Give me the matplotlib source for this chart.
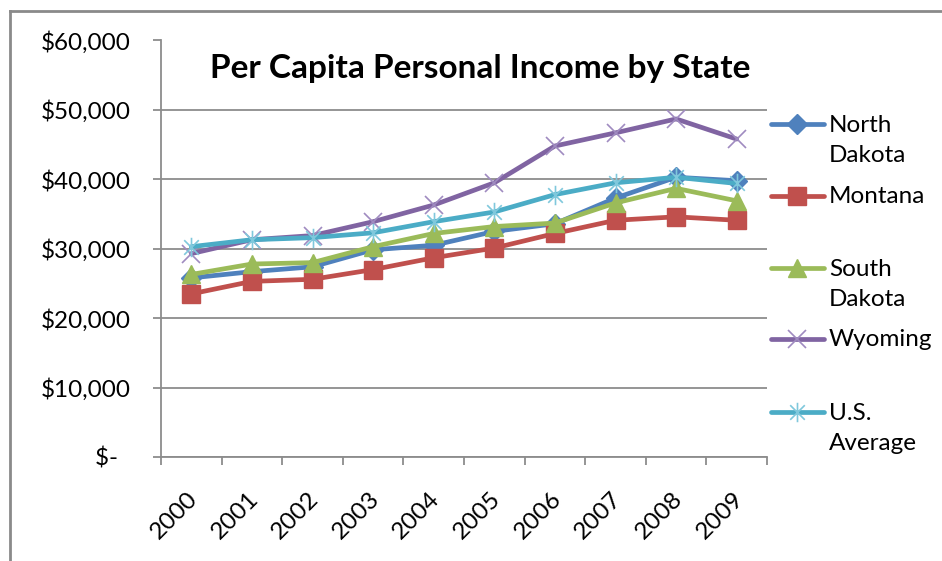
import matplotlib
matplotlib.use("Agg")
import matplotlib.pyplot as plt
from matplotlib.lines import Line2D
from matplotlib.path import Path
import matplotlib.transforms as mtransforms

years = ["2000", "2001", "2002", "2003", "2004", "2005", "2006", "2007", "2008", "2009"]
north_dakota = [25800, 26700, 27400, 29850, 30500, 32500, 33600, 37300, 40300, 39800]
montana = [23500, 25300, 25600, 27000, 28700, 30100, 32200, 34100, 34600, 34100]
south_dakota = [26300, 27800, 28000, 30300, 32200, 33200, 33700, 36600, 38700, 36900]
wyoming = [29300, 31300, 31900, 33900, 36300, 39500, 44800, 46700, 48700, 45800]
us_average = [30300, 31300, 31600, 32300, 33900, 35300, 37800, 39500, 40300, 39400]
series_names = ["North\nDakota", "Montana", "South\nDakota", "Wyoming", "U.S.\nAverage"]
y_ticks = [0, 10000, 20000, 30000, 40000, 50000, 60000]
title = "Per Capita Personal Income by State"

FONT = ["Lato", "DejaVu Sans"]
plt.rcParams["font.family"] = FONT

W, H = 942, 561
fig = plt.figure(figsize=(W / 100, H / 100), dpi=100)

def fx(px):
    return px / W

def fy(py):
    return 1 - py / H

ax = fig.add_axes([fx(161), fy(457), fx(767) - fx(161), fy(40.5) - fy(457)])

asterisk = Path(
    [(0, -1), (0, 1), (-0.75, -0.75), (0.75, 0.75), (-0.75, 0.75), (0.75, -0.75)],
    [Path.MOVETO, Path.LINETO, Path.MOVETO, Path.LINETO, Path.MOVETO, Path.LINETO],
)

styles = [
    dict(color="#4F81BD", marker="D", ms=10, mfc="#4F81BD", mec="#4F81BD", mew=1),
    dict(color="#C0504D", marker="s", ms=12.5, mfc="#C0504D", mec="#C0504D", mew=1),
    dict(color="#9BBB59", marker="^", ms=13, mfc="#9BBB59", mec="#9BBB59", mew=1),
    dict(color="#8064A2", marker="x", ms=13, mfc="none", mec="#9F8BC0", mew=1.2),
    dict(color="#4BACC6", marker=asterisk, ms=14, mfc="none", mec="#7FC8DC", mew=1.2),
]
data = [north_dakota, montana, south_dakota, wyoming, us_average]

x = list(range(len(years)))
for vals, st in zip(data, styles):
    ax.plot(x, vals, lw=3.4, solid_joinstyle="round", solid_capstyle="round",
            zorder=3, clip_on=False, **st)

grid_c = "#8C8C8C"
ax.set_xlim(-0.5, len(years) - 0.5)
ax.set_ylim(0, 60000)
ax.set_yticks(y_ticks)
ax.yaxis.grid(True, color=grid_c, lw=1.3)
ax.set_axisbelow(True)
for s in ["top", "right"]:
    ax.spines[s].set_visible(False)
for s in ["left", "bottom"]:
    ax.spines[s].set_color(grid_c)
    ax.spines[s].set_linewidth(1.3)

ax.set_yticklabels(["$-  " if v == 0 else "${:,.0f}".format(v) for v in y_ticks])
ax.tick_params(axis="y", length=6, width=1.3, color=grid_c, pad=16, labelsize=17.5,
               labelcolor="#000000")

ax.set_xticks(x)
ax.set_xticks([i - 0.5 for i in range(len(years) + 1)], minor=True)
ax.set_xticklabels(years)
ax.tick_params(axis="x", which="major", length=0, pad=28, labelsize=17.5)
ax.tick_params(axis="x", which="minor", length=6, width=1.3, color=grid_c)
offset = mtransforms.ScaledTranslation(3 / 100, 0, fig.dpi_scale_trans)
for lab in ax.get_xticklabels():
    lab.set_rotation(45)
    lab.set_rotation_mode("anchor")
    lab.set_ha("right")
    lab.set_va("center")
    lab.set_transform(lab.get_transform() + offset)

fig.text(fx(480), fy(78), title, ha="center", va="baseline", fontsize=24,
         fontweight="bold", family=FONT)

# legend
leg_y = [124, 196, 268, 339, 412]
for name, st, ly in zip(series_names, styles, leg_y):
    ln = Line2D([fx(771), fx(797), fx(824)], [fy(ly)] * 3, lw=3.4, markevery=[1],
                transform=fig.transFigure, solid_capstyle="round", **st)
    fig.add_artist(ln)
    for i, part in enumerate(name.split("\n")):
        fig.text(fx(829), fy(ly + 1 + i * 30), part, ha="left", va="center",
                 fontsize=17.5)

# outer frame
frame_c = "#8A8A8A"
fig.add_artist(Line2D([fx(10), fx(W + 5)], [fy(11), fy(11)], color=frame_c, lw=2,
                      transform=fig.transFigure))
fig.add_artist(Line2D([fx(10), fx(10)], [fy(11), fy(H + 5)], color=frame_c, lw=2,
                      transform=fig.transFigure))

fig.savefig("out.png", dpi=100)
